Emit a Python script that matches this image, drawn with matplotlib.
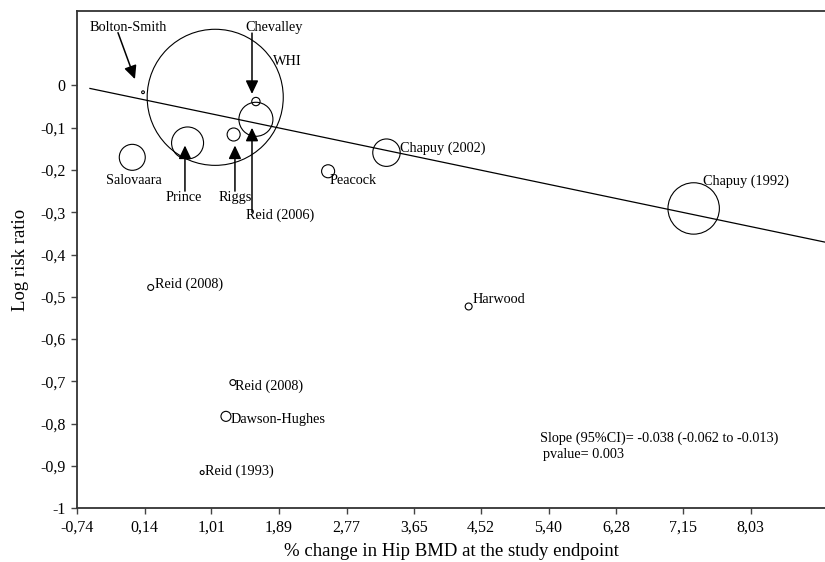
import numpy as np
import matplotlib
matplotlib.use('Agg')
import matplotlib.pyplot as plt

plt.rcParams['font.family'] = ['Liberation Serif', 'DejaVu Serif']

# study data: % change in hip BMD, log risk ratio, bubble area (study weight)
studies = ['Bolton-Smith', 'WHI', 'Chevalley', 'Reid (2006)', 'Prince', 'Riggs',
           'Salovaara', 'Peacock', 'Chapuy (2002)', 'Chapuy (1992)', 'Harwood',
           'Reid (2008)', 'Reid (2008)', 'Dawson-Hughes', 'Reid (1993)']
bmd_change = [0.12, 1.06, 1.59, 1.59, 0.70, 1.30, -0.02, 2.53, 3.29, 7.29, 4.36,
              0.22, 1.29, 1.20, 0.89]
log_rr = [-0.016, -0.028, -0.038, -0.080, -0.136, -0.116, -0.170, -0.203, -0.159,
          -0.291, -0.523, -0.478, -0.703, -0.783, -0.916]
weight = [4, 9600, 36, 600, 530, 88, 350, 88, 390, 1370, 25, 18, 18, 52, 8]

slope = -0.038
intercept = -0.0287
x_ticks = [-0.74, 0.14, 1.01, 1.89, 2.77, 3.65, 4.52, 5.40, 6.28, 7.15, 8.03]
y_ticks = [0, -0.1, -0.2, -0.3, -0.4, -0.5, -0.6, -0.7, -0.8, -0.9, -1]

fig = plt.figure(figsize=(8.25, 5.62), dpi=100)
ax = fig.add_axes([0.0933, 0.096, 0.9067, 0.884])

ax.scatter(bmd_change, log_rr, s=weight, facecolors='none', edgecolors='black',
           linewidths=0.8, zorder=3)

xl = np.array([-0.571, 9.2])
ax.plot(xl, intercept + slope * xl, color='black', lw=0.9, zorder=2)

fs = 10.3
# study labels
plain = [('Salovaara', 0.006, -0.226, 'center'),
         ('Prince', 0.647, -0.266, 'center'),
         ('Riggs', 1.317, -0.266, 'center'),
         ('WHI', 1.812, 0.057, 'left'),
         ('Reid (2006)', 1.46, -0.307, 'left'),
         ('Peacock', 2.554, -0.226, 'left'),
         ('Chapuy (2002)', 3.466, -0.148, 'left'),
         ('Chapuy (1992)', 7.411, -0.226, 'left'),
         ('Harwood', 4.416, -0.507, 'left'),
         ('Reid (2008)', 0.276, -0.470, 'left'),
         ('Reid (2008)', 1.317, -0.711, 'left'),
         ('Dawson-Hughes', 1.265, -0.791, 'left'),
         ('Reid (1993)', 0.927, -0.914, 'left'),
         ('Bolton-Smith', -0.571, 0.138, 'left'),
         ('Chevalley', 1.448, 0.138, 'left')]
for txt, x, y, ha in plain:
    ax.text(x, y, txt, fontsize=fs, ha=ha, va='center', zorder=4)

ax.text(5.289, -0.834, 'Slope (95%CI)= -0.038 (-0.062 to -0.013)', fontsize=fs, va='center')
ax.text(5.328, -0.874, 'pvalue= 0.003', fontsize=fs, va='center')

# arrows (tail -> tip)
arrows = [((-0.206, 0.125), (0.015, 0.015)),
          ((1.539, 0.124), (1.539, -0.020)),
          ((1.539, -0.300), (1.539, -0.100)),
          ((0.666, -0.250), (0.666, -0.142)),
          ((1.317, -0.250), (1.317, -0.142))]
for tail, tip in arrows:
    ax.annotate('', xy=tip, xytext=tail,
                arrowprops=dict(arrowstyle='-|>,head_length=0.8,head_width=0.38',
                                color='black', lw=1.1, shrinkA=0, shrinkB=0))

ax.set_xlim(-0.74, 9.0)
ax.set_ylim(-1, 0.1757)
ax.set_xticks(x_ticks)
ax.set_xticklabels([f'{v:.2f}'.replace('.', ',') for v in x_ticks])
ax.set_yticks(y_ticks)
ax.set_yticklabels(['0' if v == 0 else ('-1' if v == -1 else f'{v:.1f}'.replace('.', ','))
                    for v in y_ticks])
ax.tick_params(labelsize=11.5, length=4, width=1.0, color='#444444', pad=4)
for s in ['left', 'bottom', 'top']:
    ax.spines[s].set_linewidth(1.3)
    ax.spines[s].set_color('#333333')
ax.spines['right'].set_visible(False)

ax.set_xlabel('% change in Hip BMD at the study endpoint', fontsize=13.5, labelpad=6)
ax.set_ylabel('Log risk ratio', fontsize=13.5, labelpad=8)

fig.savefig('out.png', dpi=100)
